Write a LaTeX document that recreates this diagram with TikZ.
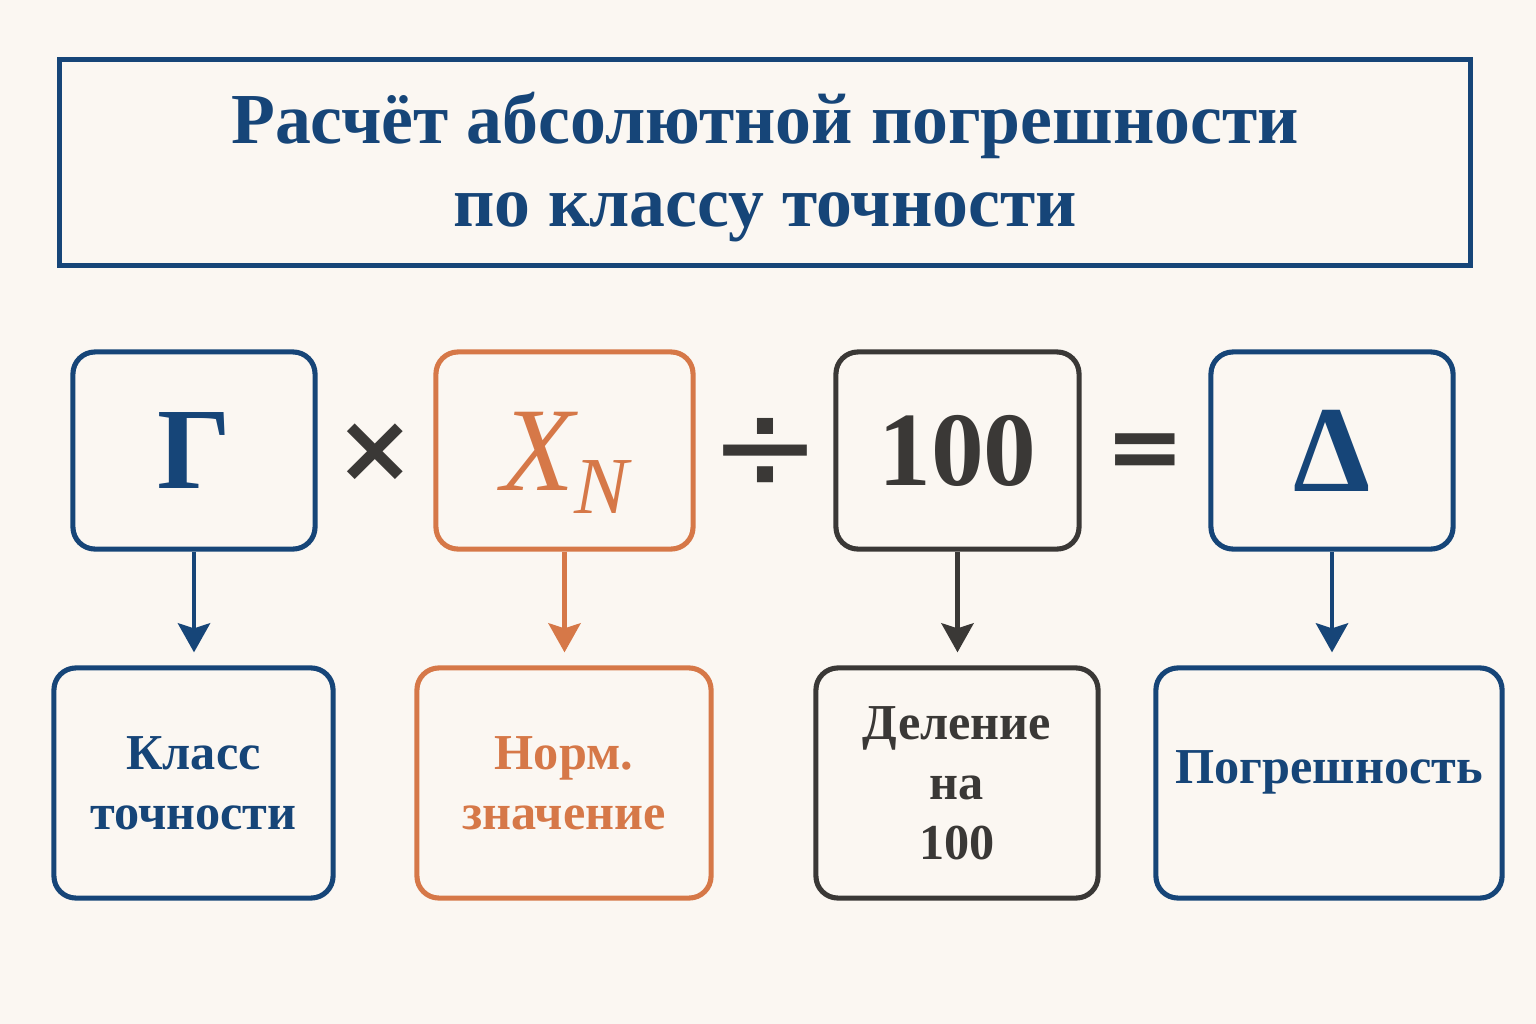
\documentclass[tikz,border=0pt]{standalone}
\usepackage{fontspec}
\setmainfont{Liberation Serif}
\newfontfamily\opfont{DejaVu Sans}
\usetikzlibrary{arrows.meta}
\definecolor{cblue}{RGB}{22,69,120}
\definecolor{corange}{RGB}{214,120,72}
\definecolor{cgray}{RGB}{58,56,54}
\definecolor{cbg}{RGB}{251,247,242}
\begin{document}
\begin{tikzpicture}[x=0.01cm,y=-0.01cm,
  titlebox/.style={draw=cblue, line width=1.4pt, minimum width=14.1cm, minimum height=2.05cm, align=center, text=cblue, font=\fontsize{20.4}{23.6}\selectfont\bfseries},
  topbox/.style={draw, line width=1.45pt, rounded corners=0.22cm, minimum width=2.42cm, minimum height=1.97cm, inner sep=0pt},
  botbox/.style={draw, line width=1.45pt, rounded corners=0.22cm, minimum height=2.30cm, inner sep=2pt, align=center, font=\fontsize{14.3}{17.1}\selectfont\bfseries},
  arr/.style={line width=1.4pt, -{Stealth[length=0.29cm,width=0.32cm,inset=0.05cm]}, shorten >=0.13cm},
  opsym/.style={text=cgray, inner sep=0pt}
]
\fill[cbg] (0,0) rectangle (1536,1024);
\useasboundingbox (0,0) rectangle (1536,1024);

\node[titlebox] (title) at (765,162.5) {\rule{0pt}{0.85em}Расчёт абсолютной погрешности\\по классу точности};

\node[topbox, draw=cblue, text=cblue, font=\fontsize{33}{36}\selectfont\bfseries] (t1) at (194,450.5) {Γ};
\node[topbox, draw=corange, text=corange, minimum width=2.57cm, text height=0.89cm, text depth=0.1cm, font=\fontsize{34}{36}\selectfont\itshape] (t2) at (564.5,450.5) {X\raisebox{-0.2em}{\fontsize{23}{25}\selectfont N}};
\node[topbox, draw=cgray, text=cgray, minimum width=2.43cm, font=\fontsize{30}{33}\selectfont\bfseries] (t3) at (957.5,450.5) {100};
\node[topbox, draw=cblue, text=cblue, font=\fontsize{35}{37}\selectfont\bfseries] (t4) at (1332,450.5) {Δ};

\node[opsym, font=\opfont\fontsize{27}{30}\selectfont\bfseries] (times) at (375,453) {×};
\node[opsym, font=\opfont\fontsize{38}{40}\selectfont] (divide) at (765,455) {÷};
\node[opsym, font=\opfont\fontsize{27}{30}\selectfont\bfseries] (equals) at (1145,457) {=};

\node[botbox, draw=cblue, text=cblue, minimum width=2.79cm] (b1) at (193.5,783) {Класс\\точности};
\node[botbox, draw=corange, text=corange, minimum width=2.94cm] (b2) at (564,783) {Норм.\\значение};
\node[botbox, draw=cgray, text=cgray, minimum width=2.82cm] (b3) at (957,783) {Деление\\на\\100};
\node[botbox, draw=cblue, text=cblue, minimum width=3.46cm] (b4) at (1329,783) {Погрешность\rule[-0.32cm]{0pt}{0.1cm}};

\draw[arr, cblue] (t1.south) -- (t1.south |- b1.north);
\draw[arr, corange] (t2.south) -- (t2.south |- b2.north);
\draw[arr, cgray] (t3.south) -- (t3.south |- b3.north);
\draw[arr, cblue] (t4.south) -- (t4.south |- b4.north);
\end{tikzpicture}
\end{document}
